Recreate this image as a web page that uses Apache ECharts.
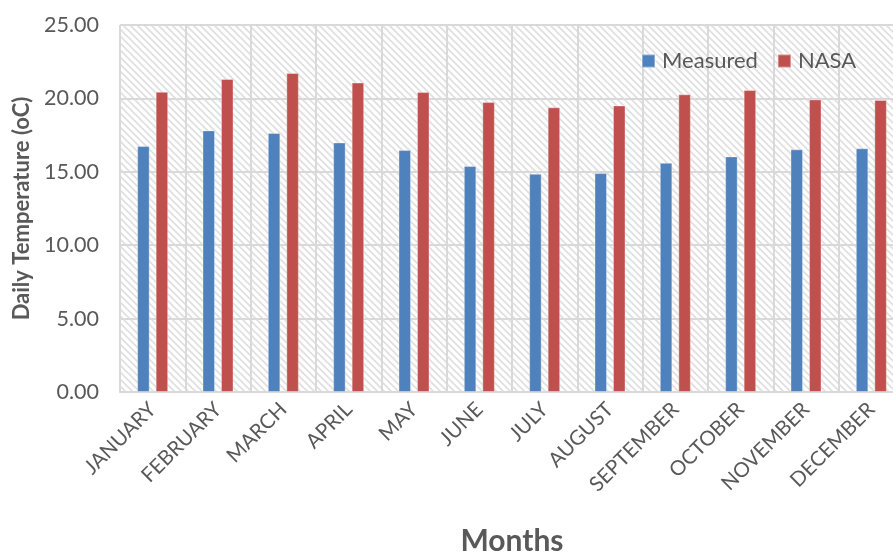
<!DOCTYPE html>
<html>
<head>
<meta charset="utf-8">
<script src="https://cdn.jsdelivr.net/npm/echarts@6/dist/echarts.min.js"></script>
<style>
  html, body { margin: 0; padding: 0; background: #ffffff; }
  #chart { width: 893px; height: 552px; }
</style>
</head>
<body>
<div id="chart"></div>
<script>
// Monthly mean daily temperature: on-site measurements vs. NASA data
const months = ['JANUARY', 'FEBRUARY', 'MARCH', 'APRIL', 'MAY', 'JUNE',
                'JULY', 'AUGUST', 'SEPTEMBER', 'OCTOBER', 'NOVEMBER', 'DECEMBER'];
const measured = [16.75, 17.82, 17.64, 17.00, 16.48, 15.39, 14.86, 14.91, 15.61, 16.05, 16.53, 16.60];
const nasa = [20.45, 21.32, 21.73, 21.08, 20.43, 19.75, 19.39, 19.52, 20.28, 20.57, 19.93, 19.89];
const yTicks = { min: 0, max: 25, interval: 5 };

// Diagonal hatch tile for the plot background
function hatchTile(size, color) {
  const c = document.createElement('canvas');
  c.width = size; c.height = size;
  const g = c.getContext('2d');
  g.fillStyle = '#ffffff';
  g.fillRect(0, 0, size, size);
  g.strokeStyle = color;
  g.lineWidth = 1.8;
  g.beginPath();
  for (let k = -1; k <= 1; k++) {
    g.moveTo(k * size - 1, -1);
    g.lineTo(k * size + size + 1, size + 1);
  }
  g.stroke();
  return c;
}

const font = 'Lato, "Open Sans", sans-serif';
const textGray = '#595959';
const gridGray = '#d9d9d9';

const chart = echarts.init(document.getElementById('chart'), null, { renderer: 'canvas' });
chart.setOption({
  animation: false,
  backgroundColor: '#ffffff',
  textStyle: { fontFamily: font },
  grid: {
    left: 120, top: 25, width: 784, height: 367,
    show: true,
    borderWidth: 0,
    backgroundColor: { image: hatchTile(7, '#e0e0e0'), repeat: 'repeat' },
    outerBoundsMode: 'none'
  },
  legend: {
    left: 641, top: 50,
    padding: 0,
    icon: 'rect',
    itemWidth: 13, itemHeight: 13,
    itemGap: 19,
    textStyle: { fontFamily: font, fontSize: 22, color: textGray, padding: [0, 0, 0, 2] },
    data: ['Measured', 'NASA']
  },
  xAxis: {
    type: 'category',
    data: months,
    name: 'Months',
    nameLocation: 'middle',
    nameGap: 134,
    nameTextStyle: { fontFamily: font, fontSize: 30, fontWeight: 'bold', color: textGray },
    axisLine: { show: true, lineStyle: { color: gridGray, width: 2 } },
    axisTick: { show: false },
    axisLabel: { rotate: 45, margin: 14, fontFamily: font, fontSize: 20.5, color: textGray, interval: 0 },
    splitLine: { show: true, interval: 0, lineStyle: { color: gridGray, width: 2 } }
  },
  yAxis: {
    type: 'value',
    min: yTicks.min, max: yTicks.max, interval: yTicks.interval,
    name: 'Daily Temperature (oC)',
    nameLocation: 'middle',
    nameGap: 86,
    nameTextStyle: { fontFamily: font, fontSize: 22, fontWeight: 'bold', color: textGray },
    axisLine: { show: false },
    axisTick: { show: false },
    axisLabel: { margin: 21, fontFamily: font, fontSize: 21.5, color: textGray,
                 formatter: v => v.toFixed(2) },
    splitLine: { show: true, lineStyle: { color: gridGray, width: 2 } }
  },
  series: [
    {
      name: 'Measured', type: 'bar', data: measured,
      barWidth: 12.5, barGap: '48%',
      itemStyle: { color: '#4f81bd', borderColor: 'rgba(255,255,255,0.35)', borderWidth: 1 }
    },
    {
      name: 'NASA', type: 'bar', data: nasa,
      barWidth: 12.5, barGap: '48%',
      itemStyle: { color: '#c0504d', borderColor: 'rgba(255,255,255,0.35)', borderWidth: 1 }
    }
  ]
});
</script>
</body>
</html>
